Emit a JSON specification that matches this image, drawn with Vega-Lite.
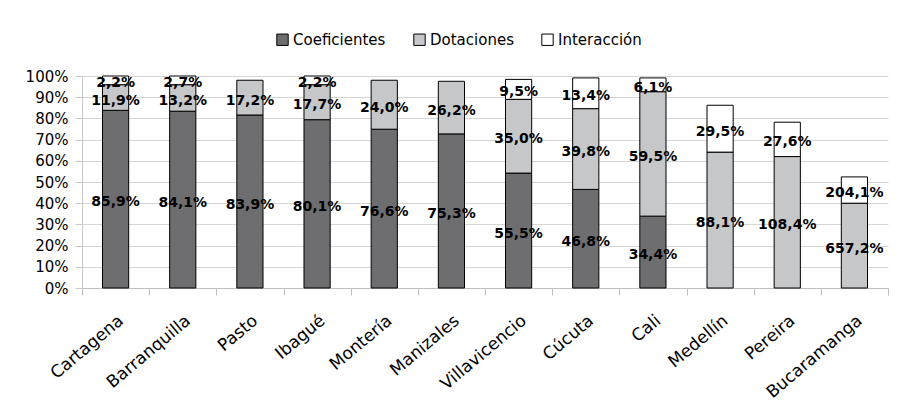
{
  "$schema": "https://vega.github.io/schema/vega-lite/v6.json",
  "width": 806,
  "height": 212,
  "autosize": {"type": "none"},
  "padding": {"left": 82, "top": 76, "right": 11, "bottom": 121},
  "background": "white",
  "config": {
    "view": {"stroke": null},
    "font": "DejaVu Sans"
  },
  "data": {
    "values": [
      {"c": "Cartagena", "s": "Coeficientes", "o": 1, "v": 83.8, "t": "85,9%"},
      {"c": "Cartagena", "s": "Dotaciones", "o": 2, "v": 12.1, "t": "11,9%"},
      {"c": "Cartagena", "s": "Interacción", "o": 3, "v": 4.1, "t": "2,2%"},
      {"c": "Barranquilla", "s": "Coeficientes", "o": 1, "v": 83.4, "t": "84,1%"},
      {"c": "Barranquilla", "s": "Dotaciones", "o": 2, "v": 12.5, "t": "13,2%"},
      {"c": "Barranquilla", "s": "Interacción", "o": 3, "v": 4.1, "t": "2,7%"},
      {"c": "Pasto", "s": "Coeficientes", "o": 1, "v": 81.6, "t": "83,9%"},
      {"c": "Pasto", "s": "Dotaciones", "o": 2, "v": 16.4, "t": "17,2%"},
      {"c": "Ibagué", "s": "Coeficientes", "o": 1, "v": 79.4, "t": "80,1%"},
      {"c": "Ibagué", "s": "Dotaciones", "o": 2, "v": 16.5, "t": "17,7%"},
      {"c": "Ibagué", "s": "Interacción", "o": 3, "v": 4.1, "t": "2,2%"},
      {"c": "Montería", "s": "Coeficientes", "o": 1, "v": 74.9, "t": "76,6%"},
      {"c": "Montería", "s": "Dotaciones", "o": 2, "v": 23.1, "t": "24,0%"},
      {"c": "Manizales", "s": "Coeficientes", "o": 1, "v": 72.7, "t": "75,3%"},
      {"c": "Manizales", "s": "Dotaciones", "o": 2, "v": 24.8, "t": "26,2%"},
      {"c": "Villavicencio", "s": "Coeficientes", "o": 1, "v": 54.2, "t": "55,5%"},
      {"c": "Villavicencio", "s": "Dotaciones", "o": 2, "v": 34.8, "t": "35,0%"},
      {"c": "Villavicencio", "s": "Interacción", "o": 3, "v": 9.4, "t": "9,5%"},
      {"c": "Cúcuta", "s": "Coeficientes", "o": 1, "v": 46.5, "t": "46,8%"},
      {"c": "Cúcuta", "s": "Dotaciones", "o": 2, "v": 38.1, "t": "39,8%"},
      {"c": "Cúcuta", "s": "Interacción", "o": 3, "v": 14.5, "t": "13,4%"},
      {"c": "Cali", "s": "Coeficientes", "o": 1, "v": 33.9, "t": "34,4%"},
      {"c": "Cali", "s": "Dotaciones", "o": 2, "v": 58.7, "t": "59,5%"},
      {"c": "Cali", "s": "Interacción", "o": 3, "v": 6.5, "t": "6,1%"},
      {"c": "Medellín", "s": "Dotaciones", "o": 2, "v": 64.1, "t": "88,1%"},
      {"c": "Medellín", "s": "Interacción", "o": 3, "v": 22.1, "t": "29,5%"},
      {"c": "Pereira", "s": "Dotaciones", "o": 2, "v": 62.0, "t": "108,4%"},
      {"c": "Pereira", "s": "Interacción", "o": 3, "v": 16.2, "t": "27,6%"},
      {"c": "Bucaramanga", "s": "Dotaciones", "o": 2, "v": 40.0, "t": "657,2%"},
      {"c": "Bucaramanga", "s": "Interacción", "o": 3, "v": 12.4, "t": "204,1%"}
    ]
  },
  "transform": [
    {"stack": "v", "groupby": ["c"], "sort": [{"field": "o"}], "as": ["y0", "y1"]},
    {"calculate": "(datum.y0 + datum.y1) / 2", "as": "ym"}
  ],
  "encoding": {
    "x": {
      "field": "c",
      "type": "nominal",
      "sort": null,
      "scale": {"paddingInner": 0, "paddingOuter": 0},
      "axis": {
        "title": null,
        "tickBand": "extent",
        "labelAngle": -40,
        "labelFont": "DejaVu Sans",
        "labelFontSize": 17,
        "labelColor": "black",
        "labelPadding": 17,
        "tickSize": 7,
        "tickColor": "#bfbfbf",
        "domainColor": "#bfbfbf",
        "grid": false
      }
    }
  },
  "layer": [
    {
      "mark": {"type": "bar", "stroke": "black", "strokeWidth": 1, "width": {"band": 0.39}},
      "encoding": {
        "y": {
          "field": "y0",
          "type": "quantitative",
          "scale": {"domain": [0, 100], "nice": false},
          "axis": {
            "title": null,
            "values": [0, 10, 20, 30, 40, 50, 60, 70, 80, 90, 100],
            "labelExpr": "datum.value + '%'",
            "labelFont": "DejaVu Sans",
            "labelFontSize": 15,
            "labelColor": "black",
            "labelPadding": 7,
            "labelOverlap": false,
            "tickSize": 7,
            "tickColor": "#c8c8c8",
            "domainColor": "#c8c8c8",
            "gridColor": "#d6d6d6",
            "grid": true
          }
        },
        "y2": {"field": "y1"},
        "color": {
          "field": "s",
          "type": "nominal",
          "scale": {
            "domain": ["Coeficientes", "Dotaciones", "Interacción"],
            "range": ["#6e6e70", "#c6c7c9", "#ffffff"]
          },
          "legend": {
            "title": null,
            "orient": "none",
            "legendX": 193,
            "legendY": -44,
            "direction": "horizontal",
            "symbolType": "square",
            "symbolSize": 130,
            "symbolStrokeColor": "black",
            "symbolStrokeWidth": 1,
            "symbolOpacity": 1,
            "labelFont": "DejaVu Sans",
            "labelFontSize": 15,
            "labelColor": "black",
            "labelOffset": 3,
            "columnPadding": 25
          }
        }
      }
    },
    {
      "mark": {"type": "text", "font": "DejaVu Sans", "fontSize": 14, "fontWeight": "bold", "color": "black", "dy": 3},
      "encoding": {
        "y": {
          "field": "ym",
          "type": "quantitative",
          "axis": {
            "title": null,
            "values": [0, 10, 20, 30, 40, 50, 60, 70, 80, 90, 100],
            "labelExpr": "datum.value + '%'",
            "labelFont": "DejaVu Sans",
            "labelFontSize": 15,
            "labelColor": "black",
            "labelPadding": 7,
            "labelOverlap": false,
            "tickSize": 7,
            "tickColor": "#c8c8c8",
            "domainColor": "#c8c8c8",
            "gridColor": "#d6d6d6",
            "grid": true
          }
        },
        "text": {"field": "t"}
      }
    }
  ]
}
